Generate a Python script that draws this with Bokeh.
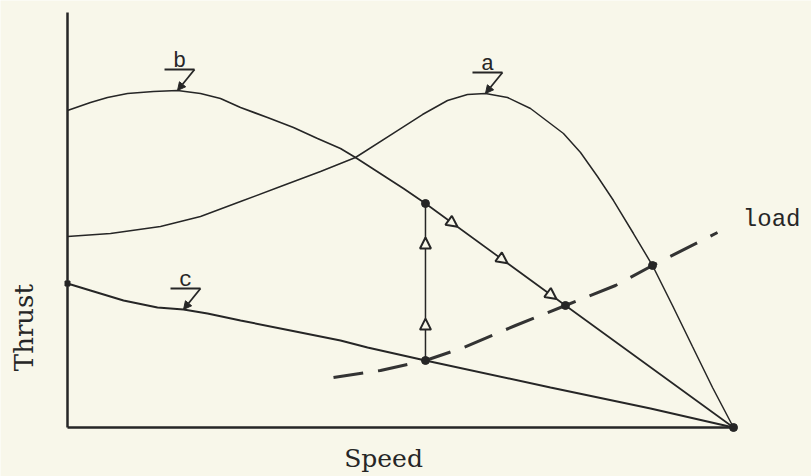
import numpy as np
from bokeh.plotting import figure
from bokeh.models import Range1d, Label, Arrow, NormalHead, FixedTicker
from bokeh.embed import file_html
from bokeh.resources import INLINE

# Thrust-speed characteristics (speed: 0..100 = synchronous, thrust: 100 = peak of curve a)
speed_a = [0, 6.46, 13.96, 19.97, 25.98, 31.98, 37.99, 43.24, 49.55, 53.3, 57.06, 60.06, 62.76,
           66.07, 69.52, 74.47, 77.03, 79.58, 81.98, 84.98, 87.84, 90.84, 93.84, 96.85, 100]
thrust_a = [57.19, 58.08, 60.18, 63.17, 67.66, 72.16, 76.65, 80.84, 88.92, 93.71, 97.9, 99.7, 100,
            98.8, 95.51, 88.02, 82.34, 75.15, 67.96, 58.08, 48.5, 36.53, 24.25, 11.98, 0]

speed_b = [0, 3.45, 6.01, 9.01, 12.91, 16.52, 19.97, 22.97, 25.98, 30.03, 33.93, 37.54, 40.99,
           43.24, 50.45, 53.75, 74.77, 100]
thrust_b = [94.91, 97.31, 98.8, 100, 100.6, 100.9, 100, 98.5, 95.81, 92.81, 89.82, 86.53, 83.53,
            80.84, 71.56, 67.07, 36.53, 0]

speed_c = [0, 3.45, 8.41, 13.51, 17.42, 21.02, 25.98, 33.48, 40.99, 45.05, 53.75, 72.52, 87.54, 100]
thrust_c = [43.11, 41.02, 38.02, 35.93, 35.33, 34.13, 32.04, 29.04, 26.05, 23.95, 20.06, 11.98, 5.69, 0]

# Load characteristic
speed_load = [39.94, 47.0, 53.75, 59.46, 67.27, 74.77, 82.28, 87.84, 97.6]
thrust_load = [14.97, 17.07, 20.06, 23.95, 30.54, 36.53, 42.51, 48.5, 58.38]

# Operating points: start on c, jump to b, settle on load; a on load; zero-thrust point
op_speed = [53.75, 53.75, 74.77, 87.84, 100]
op_thrust = [20.06, 67.07, 36.53, 48.5, 0]

# Direction arrows (tip positions): up the jump, then down along b to the load
jump_speed = [53.75, 53.75]
jump_thrust = [32.6, 56.9]
slide_speed = [58.56, 66.07, 73.42]
slide_thrust = [60.08, 49.17, 38.49]

# Curve labels and the speed at which each leader touches its curve
label_names = ["a", "b", "c"]
label_speed = [62.76, 16.52, 17.42]

PAPER = "#f8f7ea"
INK = "#262626"

W, H = 811, 476
X0_PX, Y0_PX = 67, 427   # where speed 0 / thrust 0 sit on the page
SX = 6.66   # pixels per speed unit
SY = 3.34   # pixels per thrust unit

p = figure(width=W, height=H, output_backend="svg", toolbar_location=None,
           x_range=Range1d(-X0_PX / SX, (W - X0_PX) / SX),
           y_range=Range1d(-(H - Y0_PX) / SY, Y0_PX / SY),
           min_border_left=0, min_border_bottom=0,
           min_border_top=0, min_border_right=0)
p.background_fill_color = PAPER
p.border_fill_color = PAPER
p.outline_line_color = None
p.grid.visible = False

# Bare axes through the origin: lines only, no ticks
for ax in (p.xaxis[0], p.yaxis[0]):
    ax.ticker = FixedTicker(ticks=[])
    ax.fixed_location = 0
    ax.major_tick_line_color = None
    ax.minor_tick_line_color = None
    ax.major_tick_out = 0
    ax.major_label_standoff = 0
    ax.major_label_text_font_size = "0px"
    ax.axis_line_color = INK
    ax.axis_line_width = 2.5
p.xaxis[0].bounds = (0, 100.3)
p.yaxis[0].bounds = (0, 124.3)

# Axis titles
p.add_layout(Label(x=47.45, y=-9.3, text="Speed", text_align="center",
                   text_baseline="alphabetic", text_font="DejaVu Serif",
                   text_font_size="25px", text_color=INK))
p.add_layout(Label(x=-6.6, y=29.9, text="Thrust", angle=90, angle_units="deg",
                   text_align="center", text_baseline="alphabetic",
                   text_font="DejaVu Serif", text_font_size="26px", text_color=INK))

# Characteristic curves
p.line(speed_a, thrust_a, line_color=INK, line_width=1.5)
p.line(speed_b, thrust_b, line_color=INK, line_width=1.7)
p.line(speed_c, thrust_c, line_color=INK, line_width=2.0)
p.line(speed_load, thrust_load, line_color="#333333", line_width=3, line_dash="30 15")

# Small blob where c meets the thrust axis
p.scatter([speed_c[0]], [thrust_c[0]], size=5, marker="square", fill_color=INK, line_color=INK)

# Vertical jump from curve c to curve b
p.line([op_speed[0], op_speed[1]], [op_thrust[0], op_thrust[1]], line_color=INK, line_width=1.5)

# Operating points
p.scatter(op_speed, op_thrust, size=8, marker="circle", fill_color=INK, line_color=INK)


def direction_arrows(xs, ys, dx, dy):
    for x, y in zip(xs, ys):
        p.add_layout(Arrow(x_start=x - 0.01 * dx, y_start=y - 0.01 * dy, x_end=x, y_end=y,
                           line_alpha=0,
                           end=NormalHead(size=11, fill_color=PAPER, line_color=INK,
                                          line_width=2)))


direction_arrows(jump_speed, jump_thrust, op_speed[1] - op_speed[0], op_thrust[1] - op_thrust[0])
direction_arrows(slide_speed, slide_thrust, op_speed[2] - op_speed[1], op_thrust[2] - op_thrust[1])

# Curve labels with leaders
curves = {"a": (speed_a, thrust_a), "b": (speed_b, thrust_b), "c": (speed_c, thrust_c)}
for name, s in zip(label_names, label_speed):
    tip_x = s
    tip_y = float(np.interp(s, *curves[name]))
    tail_x = tip_x + 17 / SX
    tail_y = tip_y + 21 / SY
    p.segment(x0=[tail_x - 30 / SX], y0=[tail_y], x1=[tail_x], y1=[tail_y],
              line_color=INK, line_width=1.8)
    p.add_layout(Arrow(x_start=tail_x, y_start=tail_y, x_end=tip_x, y_end=tip_y,
                       line_color=INK, line_width=1.8,
                       end=NormalHead(size=8, fill_color=INK, line_color=INK)))
    p.add_layout(Label(x=tail_x - 15 / SX, y=tail_y + 8 / SY, text=name,
                       text_align="center", text_baseline="alphabetic",
                       text_font="Liberation Mono", text_font_size="22px",
                       text_color=INK))

p.add_layout(Label(x=101.4, y=62.3, text="load", text_align="left",
                   text_baseline="alphabetic", text_font="Liberation Mono",
                   text_font_size="24px", text_color=INK))

open("out.html", "w").write(file_html(p, INLINE))
